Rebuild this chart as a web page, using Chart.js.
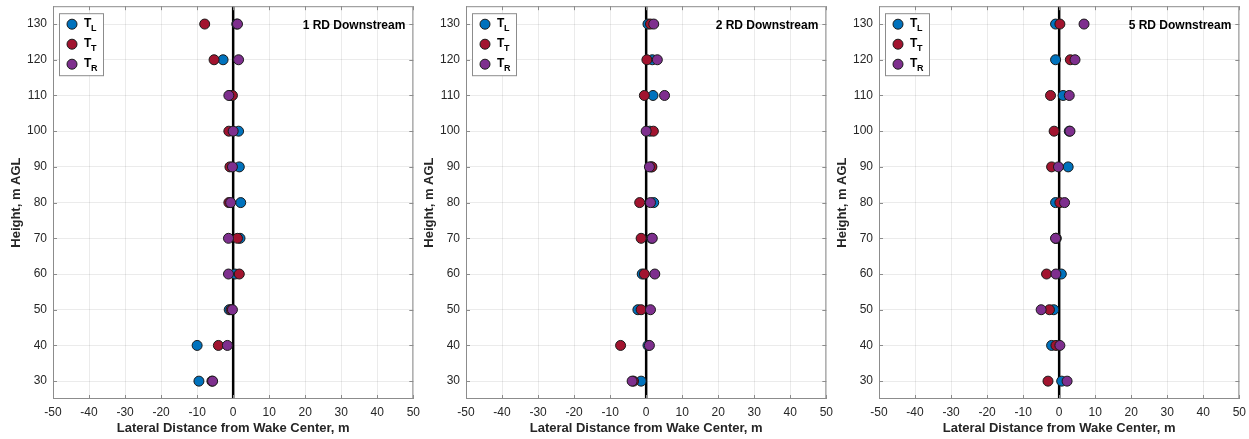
<!DOCTYPE html>
<html>
<head>
<meta charset="utf-8">
<script src="https://cdn.jsdelivr.net/npm/chart.js@4/dist/chart.umd.min.js"></script>
<style>
  html, body { margin: 0; padding: 0; background: #fff; }
  #wrap { position: relative; width: 1249px; height: 439px; overflow: hidden; }
  canvas { position: absolute; top: -7px; }
</style>
</head>
<body>
<div id="wrap">
  <canvas id="c1" width="426" height="447" style="left:0px"></canvas>
  <canvas id="c2" width="426" height="447" style="left:413px"></canvas>
  <canvas id="c3" width="426" height="447" style="left:826px"></canvas>
</div>
<script>
const heights = [30, 40, 50, 60, 70, 80, 90, 100, 110, 120, 130];
const xTicks = [-50, -40, -30, -20, -10, 0, 10, 20, 30, 40, 50];
const yTicks = [30, 40, 50, 60, 70, 80, 90, 100, 110, 120, 130];
const panelTitles = ["1 RD Downstream", "2 RD Downstream", "5 RD Downstream"];

const rd1TL = [-9.5, -10, -1.1, 0.5, 1.9, 2.1, 1.7, 1.5, -0.8, -2.8, 1.0];
const rd1TT = [-5.9, -4.1, -0.6, 1.7, 1.2, -1.2, -0.9, -1.2, -0.2, -5.3, -7.9];
const rd1TR = [-5.7, -1.6, -0.2, -1.3, -1.3, -0.7, -0.2, 0, -1.2, 1.5, 1.2];

const rd2TL = [-1.4, 0.5, -2.3, -1.1, 1.5, 2.1, 1.4, 1.0, 1.9, 1.7, 0.5];
const rd2TT = [-3.5, -7.1, -1.4, -0.5, -1.4, -1.8, 1.6, 2.0, -0.5, 0.2, 1.2];
const rd2TR = [-3.9, 0.9, 1.2, 2.4, 1.7, 1.2, 0.9, 0, 5.1, 3.1, 2.1];

const rd5TL = [0.7, -2.1, -1.5, 0.6, -0.8, -1.0, 2.5, 2.8, 1.1, -1.0, -1.0];
const rd5TT = [-3.1, -0.9, -2.7, -3.5, -0.9, 0.2, -2.1, -1.4, -2.4, 3.1, 0.2];
const rd5TR = [2.2, 0.2, -5.0, -0.9, -1.0, 1.5, -0.2, 3.0, 2.8, 4.4, 6.9];

const towers = [
  { name: "T", sub: "L", color: "#0072BD" },
  { name: "T", sub: "T", color: "#A2142F" },
  { name: "T", sub: "R", color: "#7E2F8E" },
];

const FONT = "'Liberation Sans', Arial, Helvetica, sans-serif";
const Y_MIN = 25, Y_MAX = 135;

const toPoints = (xs) => xs.map((x, i) => ({ x: x, y: heights[i] }));

const framePlugin = {
  id: "frame",
  afterDraw(chart, args, opts) {
    const { ctx, chartArea: a } = chart;
    const xs = chart.scales.x, ys = chart.scales.y;
    ctx.save();
    ctx.strokeStyle = "#8c8c8c";
    ctx.lineWidth = 1;
    ctx.strokeRect(a.left + 0.5, a.top + 0.5, a.right - a.left - 1, a.bottom - a.top - 1);

    // inward tick marks on all four sides
    ctx.beginPath();
    xTicks.forEach((v) => {
      const px = Math.round(xs.getPixelForValue(v)) + 0.5;
      ctx.moveTo(px, a.bottom); ctx.lineTo(px, a.bottom - 4);
      ctx.moveTo(px, a.top); ctx.lineTo(px, a.top + 4);
    });
    yTicks.forEach((v) => {
      const py = Math.round(ys.getPixelForValue(v)) + 0.5;
      ctx.moveTo(a.left, py); ctx.lineTo(a.left + 4, py);
      ctx.moveTo(a.right, py); ctx.lineTo(a.right - 4, py);
    });
    ctx.stroke();

    // panel title
    ctx.fillStyle = "#000";
    ctx.font = "bold 12px " + FONT;
    ctx.textAlign = "right";
    ctx.textBaseline = "middle";
    ctx.fillText(opts.title, a.right - 8, a.top + 19);

    // legend with subscripts
    const bx = a.left + 6, by = a.top + 7;
    ctx.fillStyle = "#fff";
    ctx.fillRect(bx, by, 44, 62);
    ctx.strokeStyle = "#8c8c8c";
    ctx.strokeRect(bx + 0.5, by + 0.5, 44, 62);
    towers.forEach((t, i) => {
      const cy = a.top + 18 + i * 20;
      ctx.beginPath();
      ctx.arc(a.left + 19, cy, 5, 0, Math.PI * 2);
      ctx.fillStyle = t.color;
      ctx.fill();
      ctx.strokeStyle = "#1a1a1a";
      ctx.lineWidth = 1;
      ctx.stroke();
      ctx.fillStyle = "#000";
      ctx.textAlign = "left";
      ctx.textBaseline = "middle";
      ctx.font = "bold 12px " + FONT;
      ctx.fillText(t.name, a.left + 31, cy - 1);
      ctx.font = "bold 9px " + FONT;
      ctx.fillText(t.sub, a.left + 38, cy + 4);
    });
    ctx.restore();
  },
};

const makePanel = (id, title, tl, tt, tr) => {
  const series = [tl, tt, tr];
  const datasets = towers.map((t, i) => ({
    type: "scatter",
    label: t.name + t.sub,
    data: toPoints(series[i]),
    backgroundColor: t.color,
    borderColor: "#1a1a1a",
    borderWidth: 1,
    pointRadius: 5,
    order: 3 - i,
  }));
  datasets.push({
    type: "line",
    label: "Wake center",
    data: [{ x: 0, y: Y_MIN }, { x: 0, y: Y_MAX }],
    borderColor: "#000",
    borderWidth: 2.5,
    pointRadius: 0,
    order: 10,
  });

  new Chart(document.getElementById(id), {
    type: "scatter",
    data: { datasets },
    options: {
      responsive: false,
      animation: false,
      devicePixelRatio: 1,
      layout: { padding: { left: 5, top: 5, right: 0, bottom: 0 } },
      plugins: {
        legend: { display: false },
        tooltip: { enabled: false },
        frame: { title },
      },
      scales: {
        x: {
          type: "linear",
          min: -50,
          max: 50,
          afterBuildTicks: (s) => { s.ticks = xTicks.map((v) => ({ value: v })); },
          afterFit: (s) => { s.height = 41; },
          ticks: { color: "#262626", font: { family: FONT, size: 12 }, padding: 6, maxRotation: 0 },
          grid: { color: "rgba(0,0,0,0.08)", drawTicks: false },
          border: { display: false },
          title: {
            display: true,
            text: "Lateral Distance from Wake Center, m",
            color: "#262626",
            font: { family: FONT, size: 13, weight: "bold" },
            padding: { top: 0, bottom: 4 },
          },
        },
        y: {
          type: "linear",
          min: Y_MIN,
          max: Y_MAX,
          afterBuildTicks: (s) => { s.ticks = yTicks.map((v) => ({ value: v })); },
          afterFit: (s) => { s.width = 48; },
          ticks: { color: "#262626", font: { family: FONT, size: 12 }, padding: 6 },
          grid: { color: "rgba(0,0,0,0.08)", drawTicks: false },
          border: { display: false },
          title: {
            display: true,
            text: "Height, m AGL",
            color: "#262626",
            font: { family: FONT, size: 13, weight: "bold" },
            padding: { top: 4, bottom: 4 },
          },
        },
      },
    },
    plugins: [framePlugin],
  });
};

window.addEventListener("DOMContentLoaded", () => {
  makePanel("c1", panelTitles[0], rd1TL, rd1TT, rd1TR);
  makePanel("c2", panelTitles[1], rd2TL, rd2TT, rd2TR);
  makePanel("c3", panelTitles[2], rd5TL, rd5TT, rd5TR);
});
</script>
</body>
</html>
